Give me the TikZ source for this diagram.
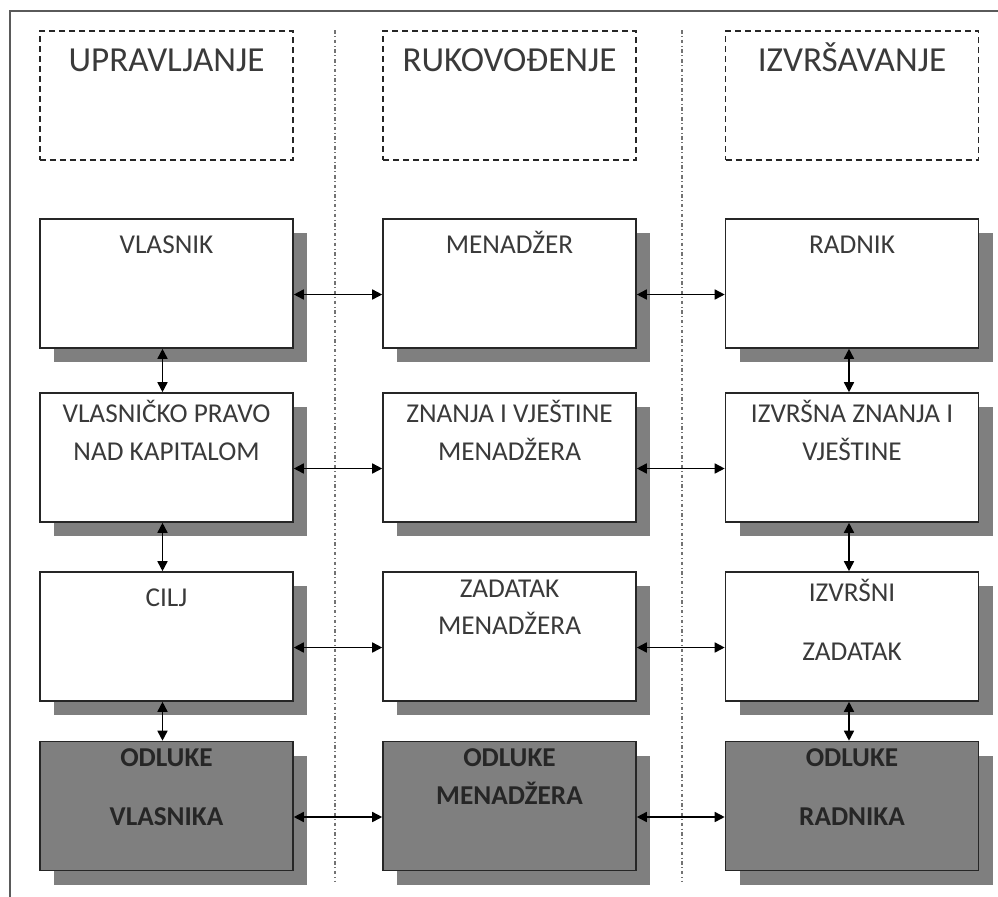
\documentclass[tikz,border=0pt]{standalone}
\usepackage{fontspec}
\setmainfont{Carlito}
\usetikzlibrary{arrows.meta, calc, shadows}
\definecolor{framegray}{HTML}{5A5A5A}
\definecolor{boxgray}{HTML}{7F7F7F}
\definecolor{txtgray}{HTML}{3A3A3A}

\begin{document}
\begin{tikzpicture}[x=0.2mm, y=-0.2mm,
    level/.style={rectangle, draw=black!85, line width=0.9pt, dash pattern=on 1.2mm off 0.8mm, minimum width=50.6mm, minimum height=25.8mm, inner sep=0pt},
    role/.style={rectangle, draw=black!85, line width=0.9pt, fill=#1, minimum width=50.6mm, minimum height=25.8mm, inner sep=0pt, drop shadow={shadow xshift=2.8mm, shadow yshift=-2.8mm, fill=boxgray, opacity=1}},
    role/.default=white,
    heading/.style={anchor=base, font=\fontsize{20}{24}\selectfont, color=txtgray},
    boxtext/.style={anchor=north, inner sep=0pt, align=center, execute at begin node=\strut, font=\fontsize{15.5}{21.5}\selectfont, color=txtgray},
    boxbold/.style={boxtext, font=\fontsize{15.5}{21.5}\selectfont\bfseries, color=black!85},
    conn/.style={{Triangle[length=2mm, width=2mm]}-{Triangle[length=2mm, width=2mm]}, line width=0.9pt, color=black},
    divider/.style={line width=0.8pt, color=black!55, dash pattern=on 2pt off 1.5pt on 0.5pt off 1.5pt}
]
\useasboundingbox (0,0) rectangle (998,897);

% Frame and column dividers
\draw[line width=1.2pt, color=framegray] (10,897) -- (10,11) -- (998,11);
\draw[divider] (335,30) -- (335,882);
\draw[divider] (682,30) -- (682,882);

% Level headings
\node[level] (h1) at (166.5,95.5) {};
\node[level] (h2) at (509.5,95.5) {};
\node[level] (h3) at (852,95.5) {};
\node[heading] (ht1) at ($(h1.north)+(0,41)$) {UPRAVLJANJE};
\node[heading] (ht2) at ($(h2.north)+(0,41)$) {RUKOVOĐENJE};
\node[heading] (ht3) at ($(h3.north)+(0,41)$) {IZVRŠAVANJE};

% Owner column
\node[role] (v1) at (166.5,283.5) {};
\node[role] (v2) at (166.5,457.5) {};
\node[role] (v3) at (166.5,636.5) {};
\node[role=boxgray] (v4) at (166.5,806) {};

% Manager column
\node[role] (m1) at (509.5,283.5) {};
\node[role] (m2) at (509.5,457.5) {};
\node[role] (m3) at (509.5,636.5) {};
\node[role=boxgray] (m4) at (509.5,806) {};

% Worker column
\node[role] (r1) at (852,283.5) {};
\node[role] (r2) at (852,457.5) {};
\node[role] (r3) at (852,636.5) {};
\node[role=boxgray] (r4) at (852,806) {};

% Box texts
\node[boxtext] (vt1) at ($(v1.north)+(0,8)$) {VLASNIK};
\node[boxtext] (vt2) at ($(v2.north)+(0,8)$) {VLASNIČKO PRAVO\\NAD KAPITALOM};
\node[boxtext] (vt3) at ($(v3.north)+(0,8)$) {CILJ};
\node[boxbold] (vt4) at ($(v4.north)+(0,8)$) {ODLUKE\\[4.2mm]VLASNIKA};
\node[boxtext] (mt1) at ($(m1.north)+(0,8)$) {MENADŽER};
\node[boxtext] (mt2) at ($(m2.north)+(0,8)$) {ZNANJA I VJEŠTINE\\MENADŽERA};
\node[boxtext] (mt3) at ($(m3.north)+(0,8)$) {ZADATAK\\MENADŽERA};
\node[boxbold] (mt4) at ($(m4.north)+(0,8)$) {ODLUKE\\MENADŽERA};
\node[boxtext] (rt1) at ($(r1.north)+(0,8)$) {RADNIK};
\node[boxtext] (rt2) at ($(r2.north)+(0,8)$) {IZVRŠNA ZNANJA I\\VJEŠTINE};
\node[boxtext] (rt3) at ($(r3.north)+(0,8)$) {IZVRŠNI\\[4.2mm]ZADATAK};
\node[boxbold] (rt4) at ($(r4.north)+(0,8)$) {ODLUKE\\[4.2mm]RADNIKA};

% Horizontal links
\foreach \row in {1,2,3,4}{
  \draw[conn] ([yshift=-2.2mm]v\row.east) -- ([yshift=-2.2mm]m\row.west);
  \draw[conn] ([yshift=-2.2mm]m\row.east) -- ([yshift=-2.2mm]r\row.west);
}

% Vertical links
\draw[conn] ([xshift=-0.8mm]v1.south) -- ([xshift=-0.8mm]v2.north);
\draw[conn] ([xshift=-0.8mm]v2.south) -- ([xshift=-0.8mm]v3.north);
\draw[conn] ([xshift=-0.8mm]v3.south) -- ([xshift=-0.8mm]v4.north);
\draw[conn] ([xshift=-0.6mm]r1.south) -- ([xshift=-0.6mm]r2.north);
\draw[conn] ([xshift=-0.6mm]r2.south) -- ([xshift=-0.6mm]r3.north);
\draw[conn] ([xshift=-0.6mm]r3.south) -- ([xshift=-0.6mm]r4.north);

\end{tikzpicture}
\end{document}
